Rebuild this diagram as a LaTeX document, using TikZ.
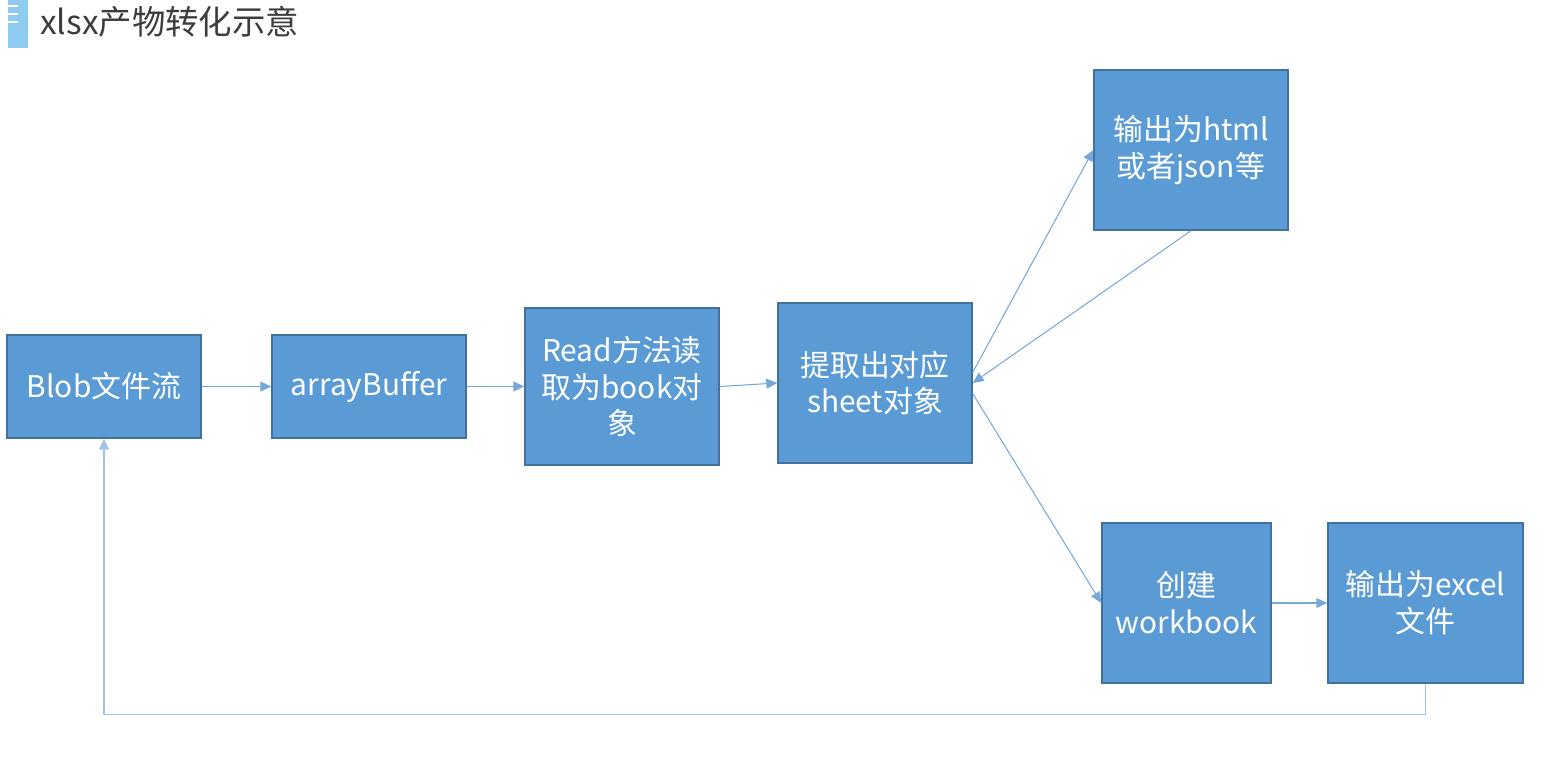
\documentclass[tikz,border=0pt]{standalone}
\usepackage{fontspec}
\setmainfont{Noto Sans CJK SC}
\usetikzlibrary{arrows.meta}
\definecolor{boxfill}{RGB}{91,155,213}
\definecolor{boxline}{RGB}{65,113,156}
\definecolor{linkcol}{RGB}{120,168,218}
\definecolor{backcol}{RGB}{160,196,232}
\definecolor{barcol}{RGB}{143,203,240}
\definecolor{titlecol}{RGB}{60,60,60}
\begin{document}
\begin{tikzpicture}[x=0.02cm,y=-0.02cm]
        % Define styles for the boxes and links
        \tikzstyle{stepbox}=[draw=boxline,fill=boxfill,line width=0.8pt,text=white,align=center,
          font=\fontsize{17}{21}\selectfont,minimum width=3.88cm,minimum height=3.2cm,inner sep=2pt]
        \tikzstyle{link}=[draw=linkcol,line width=0.6pt,-{Triangle[length=2.2mm,width=2mm]}]

        \useasboundingbox (0,0) rectangle (1546,763);

        % Title
        \fill[barcol] (8,0) rectangle (28,48);
        \foreach \y in {6,14,22} \draw[white,line width=1pt] (8,\y) -- (18,\y);
        \node[anchor=west,text=titlecol,font=\fontsize{19}{22}\selectfont,inner sep=0pt] (title) at (40,22) {xlsx产物转化示意};

        % Main row
        \node[stepbox,minimum height=2.06cm] (blob) at (104,386.5) {Blob文件流};
        \node[stepbox,minimum height=2.06cm] (buffer) at (369,386.5) {arrayBuffer};
        \node[stepbox,minimum height=3.14cm] (book) at (622,386.5) {Read方法读\\取为book对\\象};
        \node[stepbox] (sheet) at (875,383) {提取出对应\\sheet对象};

        % Outputs
        \node[stepbox] (html) at (1191,150) {输出为html\\或者json等};
        \node[stepbox,minimum width=3.38cm] (workbook) at (1186.5,603) {创建\\workbook};
        \node[stepbox,minimum width=3.9cm] (excel) at (1425.5,603) {输出为excel\\文件};

        % Connect the boxes
        \draw[link] (blob.east) -- (buffer.west);
        \draw[link] (buffer.east) -- (book.west);
        \draw[link] (book.east) -- (sheet.west);
        \draw[link] ([yshift=6pt]sheet.east) -- (html.west);
        \draw[link] (html.south) -- (sheet.east);
        \draw[link] ([yshift=-6pt]sheet.east) -- (workbook.west);
        \draw[link] (workbook.east) -- (excel.west);
        \draw[link,draw=backcol] (excel.south) -- ++(0,31) -| (blob.south);
\end{tikzpicture}
\end{document}
